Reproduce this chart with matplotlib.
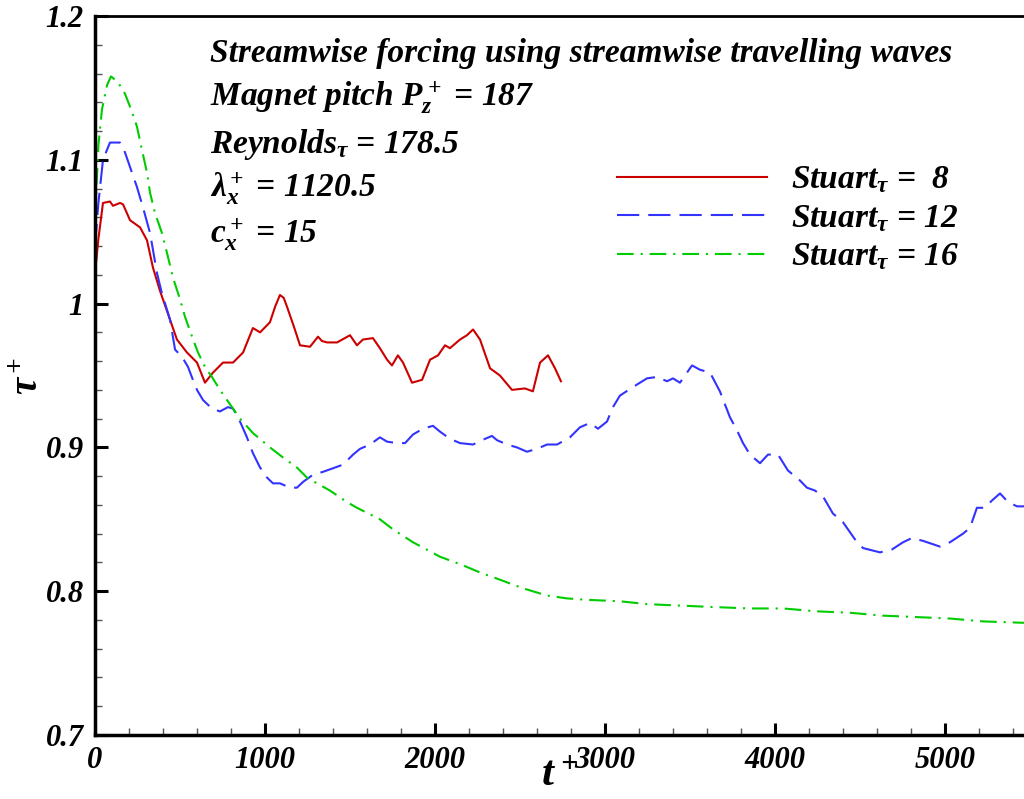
import matplotlib
matplotlib.use("Agg")
import matplotlib.pyplot as plt
from matplotlib.ticker import MultipleLocator

plt.rcParams['font.family'] = ['Liberation Serif', 'DejaVu Serif']
plt.rcParams['font.weight'] = 'bold'
plt.rcParams['font.style'] = 'italic'
plt.rcParams['mathtext.fontset'] = 'custom'
plt.rcParams['mathtext.rm'] = 'Liberation Serif'
plt.rcParams['mathtext.it'] = 'Liberation Serif:italic:bold'
plt.rcParams['mathtext.bf'] = 'Liberation Serif:italic:bold'
plt.rcParams['lines.scale_dashes'] = False

# Stuart_tau = 8
t_st8 = [0, 20, 47, 88, 106, 147, 165, 206, 265, 306, 341, 382, 429, 482, 541, 600,
         647, 694, 753, 812, 871, 929, 971, 1029, 1060, 1088, 1110, 1129, 1170, 1206,
         1265, 1312, 1335, 1365, 1424, 1500, 1541, 1576, 1635, 1676, 1718, 1747, 1782,
         1812, 1865, 1924, 1971, 2018, 2059, 2088, 2147, 2188, 2224, 2265, 2324, 2382,
         2453, 2529, 2576, 2618, 2665, 2706, 2741]
tau_st8 = [1.021, 1.045, 1.070, 1.071, 1.068, 1.070, 1.069, 1.058, 1.053, 1.044, 1.025,
           1.009, 0.993, 0.975, 0.966, 0.959, 0.945, 0.952, 0.959, 0.959, 0.966, 0.983,
           0.980, 0.987, 0.998, 1.006, 1.004, 0.998, 0.984, 0.971, 0.970, 0.977, 0.974,
           0.973, 0.973, 0.978, 0.971, 0.975, 0.976, 0.969, 0.961, 0.957, 0.964, 0.959,
           0.945, 0.947, 0.961, 0.964, 0.971, 0.969, 0.975, 0.978, 0.982, 0.975, 0.955,
           0.950, 0.940, 0.941, 0.939, 0.959, 0.964, 0.955, 0.946]

# Stuart_tau = 12
t_st12 = [0, 20, 47, 88, 147, 165, 206, 247, 282, 324, 365, 394, 441, 471, 512, 547,
          576, 600, 635, 688, 735, 782, 812, 853, 894, 929, 971, 1012, 1047, 1088, 1147,
          1188, 1224, 1282, 1341, 1412, 1459, 1518, 1559, 1618, 1676, 1718, 1776, 1824,
          1871, 1929, 1988, 2029, 2088, 2147, 2224, 2276, 2335, 2365, 2424, 2482, 2541,
          2600, 2659, 2718, 2794, 2853, 2912, 2959, 3012, 3047, 3088, 3165, 3247, 3306,
          3365, 3400, 3441, 3512, 3559, 3618, 3676, 3735, 3776, 3812, 3853, 3912, 3959,
          4018, 4076, 4147, 4188, 4235, 4282, 4341, 4400, 4471, 4518, 4618, 4688, 4753,
          4806, 4871, 4971, 5029, 5106, 5147, 5188, 5235, 5276, 5324, 5371, 5424, 5470]
tau_st12 = [1.040, 1.070, 1.100, 1.112, 1.112, 1.109, 1.095, 1.081, 1.067, 1.049, 1.021,
            1.007, 0.989, 0.968, 0.963, 0.956, 0.947, 0.940, 0.933, 0.927, 0.925, 0.928,
            0.927, 0.918, 0.907, 0.896, 0.886, 0.879, 0.875, 0.875, 0.872, 0.872, 0.876,
            0.881, 0.883, 0.886, 0.888, 0.895, 0.899, 0.902, 0.907, 0.904, 0.903, 0.903,
            0.909, 0.913, 0.915, 0.911, 0.906, 0.903, 0.902, 0.905, 0.908, 0.905, 0.902,
            0.900, 0.897, 0.899, 0.902, 0.902, 0.907, 0.914, 0.917, 0.913, 0.918, 0.928,
            0.936, 0.942, 0.948, 0.949, 0.946, 0.948, 0.945, 0.957, 0.954, 0.952, 0.939,
            0.921, 0.912, 0.903, 0.895, 0.889, 0.895, 0.895, 0.884, 0.877, 0.872, 0.870,
            0.866, 0.854, 0.848, 0.836, 0.830, 0.827, 0.829, 0.834, 0.837, 0.835, 0.831,
            0.834, 0.840, 0.844, 0.858, 0.858, 0.863, 0.868, 0.862, 0.859, 0.859]

# Stuart_tau = 16
t_st16 = [0, 20, 41, 71, 94, 135, 176, 206, 247, 276, 306, 324, 353, 394, 424, 459, 500,
          529, 571, 606, 647, 688, 735, 806, 853, 929, 1029, 1106, 1188, 1247, 1306,
          1382, 1482, 1541, 1676, 1753, 1871, 2029, 2165, 2265, 2382, 2518, 2659, 2776,
          2894, 3088, 3247, 3441, 3635, 3853, 4047, 4247, 4441, 4635, 4835, 5029, 5224,
          5470]
tau_st16 = [1.060, 1.110, 1.135, 1.152, 1.158, 1.154, 1.146, 1.137, 1.123, 1.107, 1.091,
            1.077, 1.063, 1.049, 1.035, 1.018, 1.003, 0.991, 0.977, 0.966, 0.956, 0.949,
            0.940, 0.928, 0.920, 0.910, 0.900, 0.893, 0.886, 0.879, 0.875, 0.870, 0.862,
            0.858, 0.850, 0.843, 0.834, 0.824, 0.818, 0.813, 0.808, 0.802, 0.797, 0.795,
            0.794, 0.793, 0.791, 0.790, 0.789, 0.788, 0.788, 0.786, 0.785, 0.783, 0.782,
            0.781, 0.779, 0.778]

labels = [r"Stuart$_{\mathrm{\tau}}$ =  8", r"Stuart$_{\mathrm{\tau}}$ = 12",
          r"Stuart$_{\mathrm{\tau}}$ = 16"]
info_lines = ["Streamwise forcing using streamwise travelling waves",
              r"Magnet pitch $P_z^+$ = 187",
              r"Reynolds$_{\mathrm{\tau}}$ = 178.5",
              r"$\mathrm{\lambda}_x^+$ = 1120.5",
              r"$c_x^+$ = 15"]

fig = plt.figure(figsize=(10.24, 7.99), dpi=100)
ax = fig.add_axes([95 / 1024, 64 / 799, 929 / 1024, 719 / 799])

ax.plot(t_st8, tau_st8, color='#cc0000', lw=1.5, label=labels[0])
ax.plot(t_st12, tau_st12, color='#3333ff', lw=1.5, dashes=(16, 6.5), label=labels[1])
ax.plot(t_st16, tau_st16, color='#00cc00', lw=1.5, dashes=(12, 5, 1.5, 5), label=labels[2])

ax.set_xlim(0, 5465)
ax.set_ylim(0.7, 1.2)
ax.xaxis.set_major_locator(MultipleLocator(1000))
ax.xaxis.set_minor_locator(MultipleLocator(200))
ax.yaxis.set_minor_locator(MultipleLocator(0.02))
ax.set_yticks([0.7, 0.8, 0.9, 1.0, 1.1, 1.2])
ax.set_yticklabels(['0.7', '0.8', '0.9', '1', '1.1', '1.2'])
ax.tick_params(which='major', direction='in', length=9, width=2.2, labelsize=22, pad=8)
ax.tick_params(which='minor', direction='in', length=5, width=1, color='#555555')
ax.tick_params(top=False, right=False, which='both')
ax.spines['right'].set_visible(False)
ax.spines['left'].set_linewidth(2.5)
ax.spines['bottom'].set_linewidth(2.5)
ax.spines['top'].set_linewidth(2)

ax.set_xlabel(r"$t^+$", fontsize=31)
ax.xaxis.set_label_coords(0.5, -0.03)
ax.set_ylabel(r"$\mathrm{\tau}^+$", fontsize=28)
ax.yaxis.set_label_coords(-0.052, 0.5)

ys = [0.936, 0.875, 0.809, 0.748, 0.684]
for s, y in zip(info_lines, ys):
    ax.text(0.124, y, s, transform=ax.transAxes, fontsize=24, va='baseline', ha='left')

ax.legend(loc='upper left', bbox_to_anchor=(0.53, 0.835), frameon=False, fontsize=24,
          handlelength=4.5, handletextpad=0.72, labelspacing=0.22)

fig.savefig("out.png", dpi=100)
